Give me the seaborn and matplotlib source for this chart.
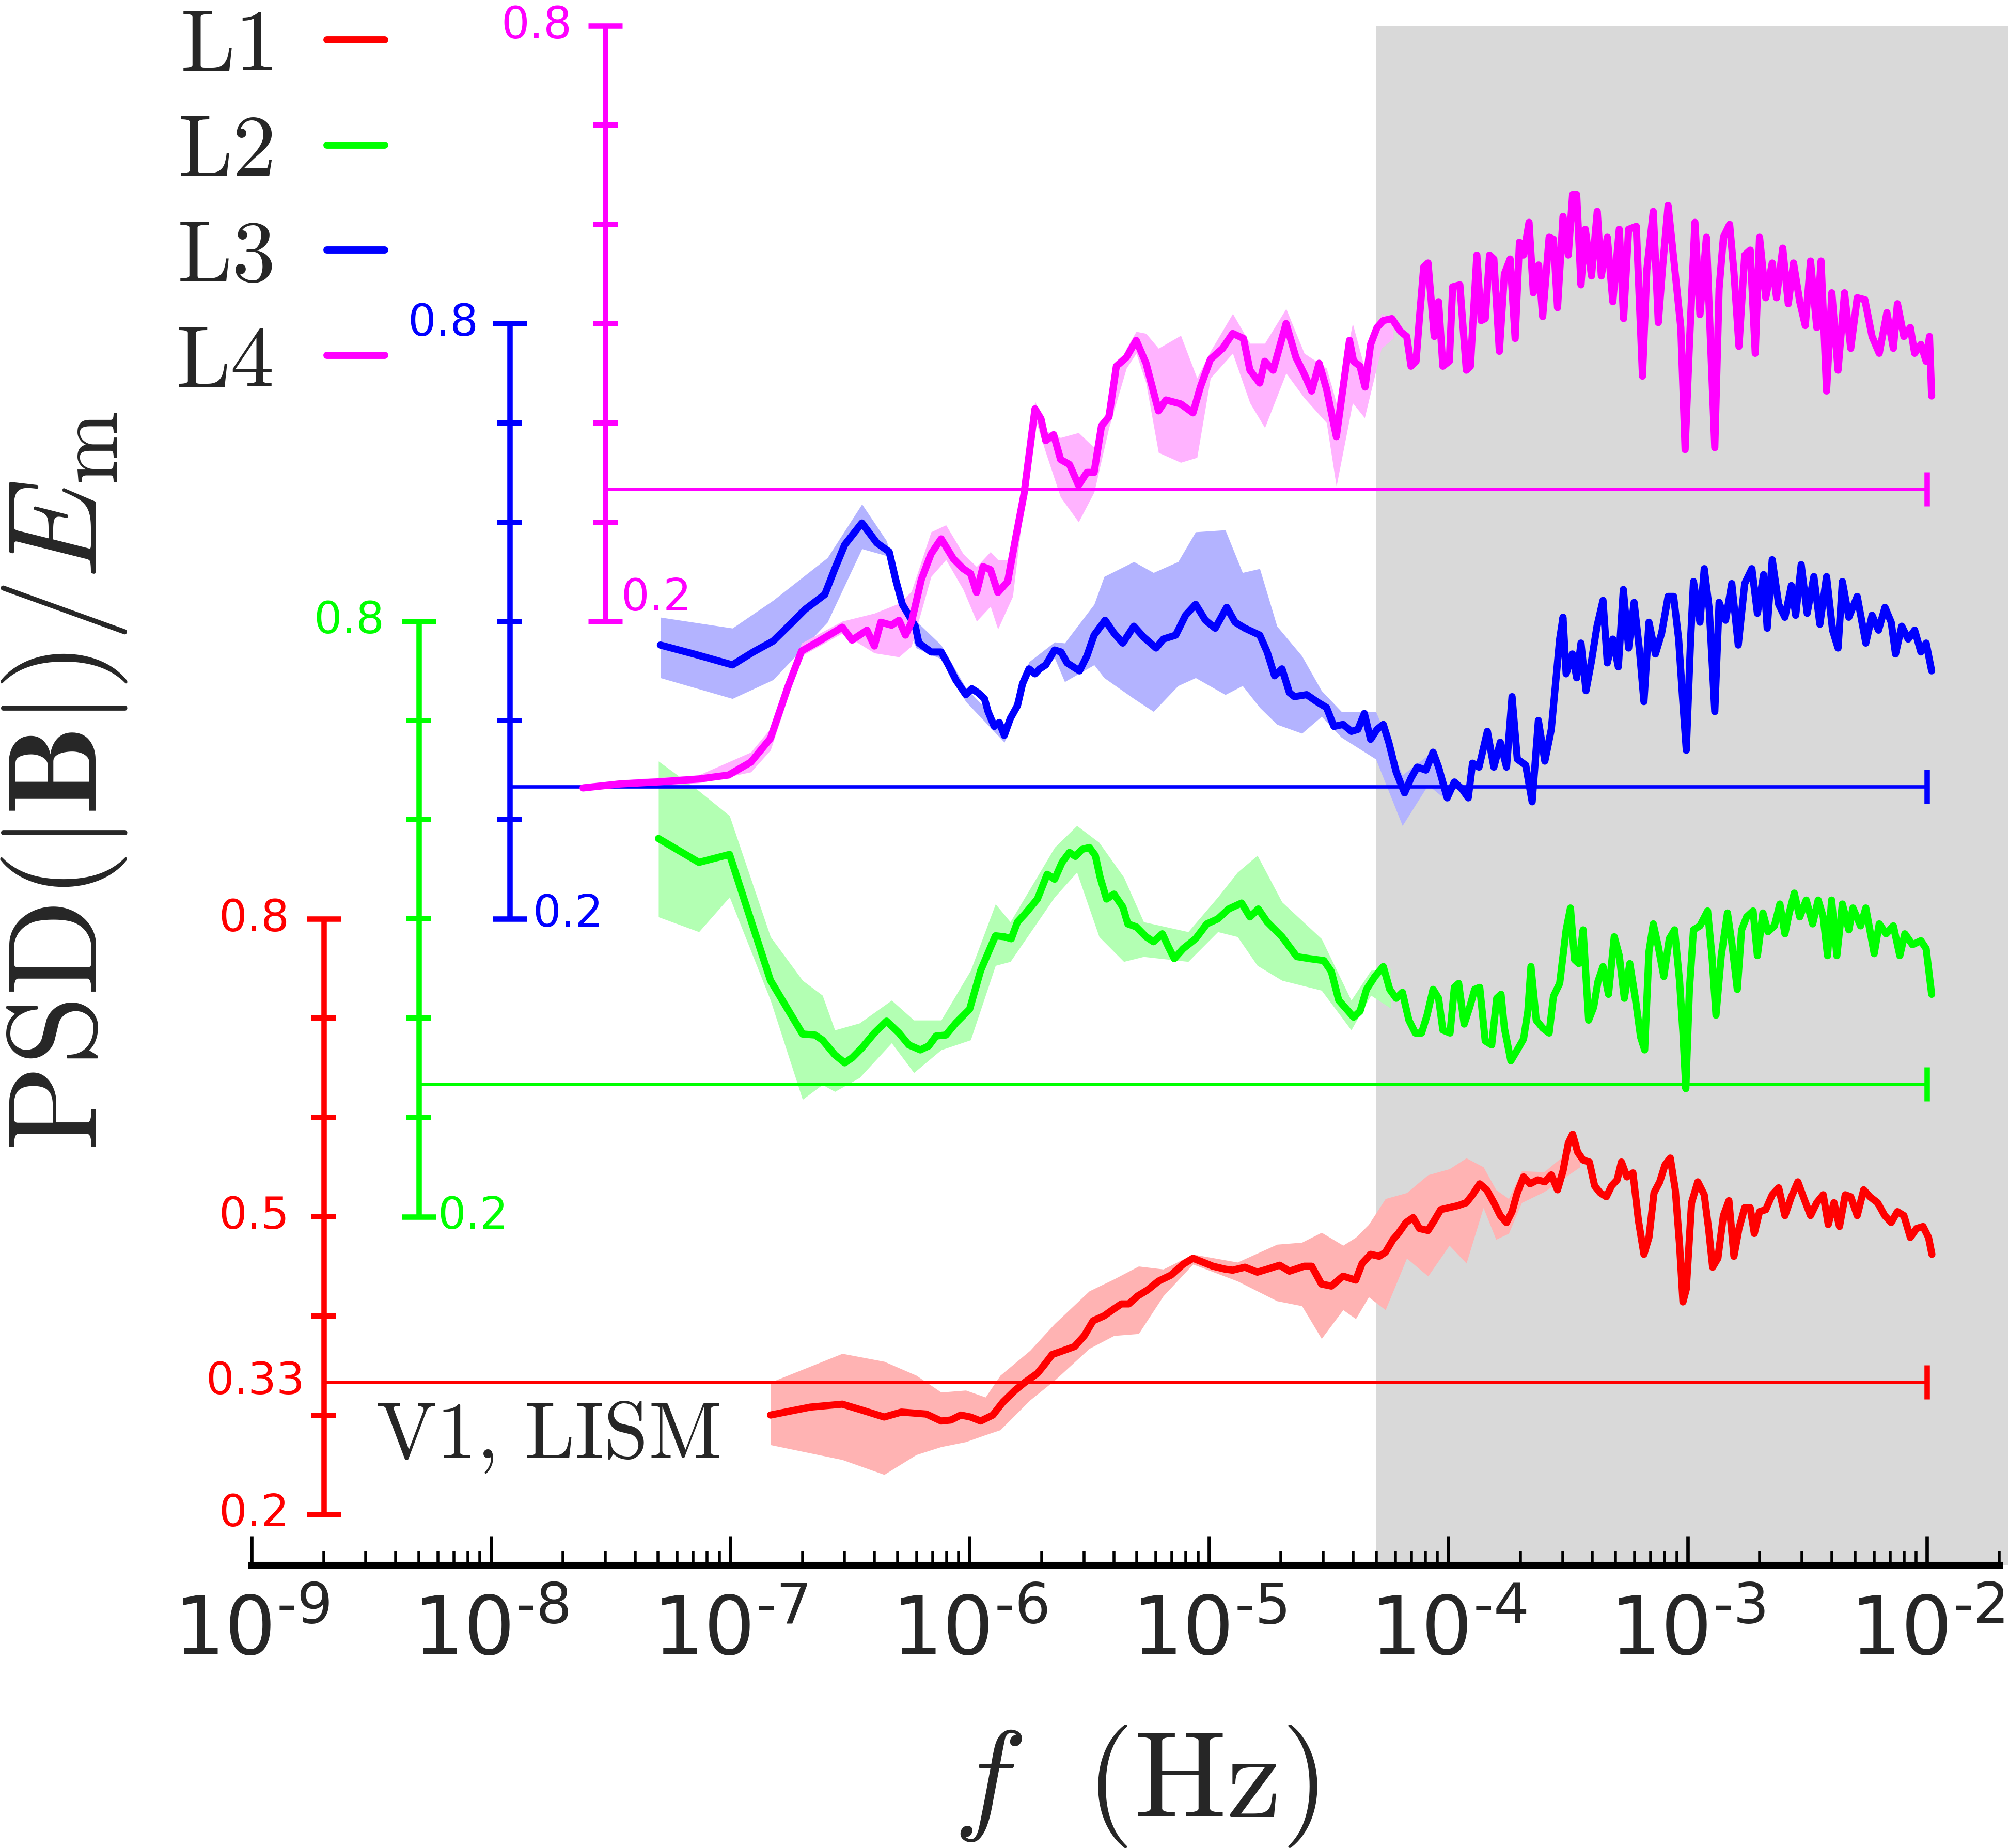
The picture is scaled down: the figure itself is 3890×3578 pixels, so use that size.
import numpy as np
import pandas as pd
import seaborn as sns
import matplotlib.pyplot as plt
from matplotlib.ticker import FuncFormatter

# PSD(|B|)/E_m spectra for the four levels
# frequencies are stored as log10(f / Hz), values on each level's own 0.2-0.8 scale

l1_logf = [
    -6.832, -6.666, -6.532, -6.450, -6.357, -6.285, -6.181, -6.119, -6.078, -6.037,
    -5.996, -5.954, -5.903, -5.861, -5.810, -5.769, -5.717, -5.690, -5.655, -5.608,
    -5.562, -5.521, -5.484, -5.438, -5.397, -5.366, -5.335, -5.298, -5.257, -5.211,
    -5.159, -5.108, -5.067, -5.025, -4.984, -4.932, -4.901, -4.850, -4.798, -4.757,
    -4.705, -4.664, -4.602, -4.571, -4.530, -4.489, -4.440, -4.387, -4.360, -4.325,
    -4.289, -4.263, -4.231, -4.209, -4.177, -4.147, -4.121, -4.085, -4.059, -4.032,
    -3.996, -3.961, -3.925, -3.899, -3.869, -3.840, -3.810, -3.783, -3.757, -3.734,
    -3.712, -3.686, -3.659, -3.627, -3.597, -3.570, -3.544, -3.521, -3.499, -3.481,
    -3.460, -3.437, -3.411, -3.389, -3.366, -3.340, -3.318, -3.295, -3.277, -3.254,
    -3.229, -3.206, -3.183, -3.162, -3.141, -3.117, -3.095, -3.073, -3.052, -3.034,
    -3.020, -3.006, -2.984, -2.958, -2.931, -2.913, -2.896, -2.874, -2.851, -2.828,
    -2.807, -2.786, -2.762, -2.739, -2.722, -2.700, -2.674, -2.647, -2.620, -2.594,
    -2.567, -2.540, -2.514, -2.487, -2.461, -2.434, -2.413, -2.389, -2.366, -2.342,
    -2.319, -2.292, -2.265, -2.239, -2.207, -2.177, -2.150, -2.124, -2.097, -2.070,
    -2.044, -2.017, -1.994, -1.980]
l1_psd = [
    0.300, 0.308, 0.311, 0.305, 0.298, 0.303, 0.301, 0.294, 0.295, 0.300,
    0.298, 0.294, 0.300, 0.313, 0.325, 0.333, 0.342, 0.350, 0.361, 0.365,
    0.369, 0.380, 0.395, 0.400, 0.407, 0.412, 0.412, 0.420, 0.426, 0.435,
    0.441, 0.452, 0.458, 0.454, 0.450, 0.447, 0.446, 0.449, 0.444, 0.447,
    0.451, 0.445, 0.450, 0.450, 0.432, 0.430, 0.440, 0.436, 0.453, 0.462,
    0.460, 0.464, 0.477, 0.483, 0.494, 0.499, 0.488, 0.486, 0.496, 0.507,
    0.509, 0.511, 0.514, 0.522, 0.533, 0.527, 0.514, 0.501, 0.494, 0.505,
    0.524, 0.540, 0.533, 0.537, 0.535, 0.542, 0.527, 0.546, 0.574, 0.583,
    0.565, 0.557, 0.555, 0.531, 0.524, 0.520, 0.531, 0.537, 0.555, 0.540,
    0.544, 0.496, 0.462, 0.479, 0.524, 0.535, 0.552, 0.559, 0.527, 0.471,
    0.414, 0.427, 0.514, 0.535, 0.522, 0.488, 0.449, 0.458, 0.501, 0.516,
    0.460, 0.488, 0.509, 0.509, 0.483, 0.505, 0.507, 0.522, 0.529, 0.501,
    0.520, 0.535, 0.518, 0.501, 0.514, 0.522, 0.492, 0.514, 0.490, 0.522,
    0.520, 0.501, 0.527, 0.520, 0.514, 0.501, 0.494, 0.505, 0.501, 0.479,
    0.488, 0.490, 0.479, 0.462]
l1_band_logf = [-6.832, -6.532, -6.357, -6.223, -6.119, -6.016, -5.934, -5.872, -5.748, -5.645,
                -5.500, -5.397, -5.294, -5.191, -5.067, -4.881, -4.716, -4.612, -4.530, -4.440,
                -4.387, -4.333, -4.263, -4.174, -4.085, -3.996, -3.925, -3.854, -3.801, -3.748,
                -3.694, -3.600, -3.450]
l1_band_lo = [0.270, 0.255, 0.240, 0.260, 0.268, 0.273, 0.280, 0.285, 0.315, 0.335,
              0.367, 0.380, 0.382, 0.420, 0.452, 0.435, 0.415, 0.410, 0.377, 0.406,
              0.397, 0.419, 0.406, 0.458, 0.440, 0.471, 0.453, 0.509, 0.477, 0.483,
              0.514, 0.525, 0.550]
l1_band_hi = [0.333, 0.362, 0.354, 0.340, 0.323, 0.325, 0.318, 0.340, 0.365, 0.392,
              0.425, 0.437, 0.450, 0.447, 0.462, 0.454, 0.472, 0.474, 0.484, 0.471,
              0.479, 0.492, 0.518, 0.524, 0.542, 0.548, 0.559, 0.550, 0.527, 0.518,
              0.546, 0.545, 0.575]

l2_logf = [
    -7.300, -7.131, -7.003, -6.925, -6.832, -6.698, -6.646, -6.615, -6.563, -6.522,
    -6.491, -6.450, -6.398, -6.347, -6.295, -6.254, -6.206, -6.171, -6.140, -6.099,
    -6.058, -6.000, -5.954, -5.892, -5.855, -5.826, -5.800, -5.769, -5.717, -5.676,
    -5.645, -5.614, -5.583, -5.558, -5.531, -5.500, -5.475, -5.455, -5.428, -5.397,
    -5.360, -5.339, -5.304, -5.263, -5.232, -5.195, -5.170, -5.145, -5.108, -5.056,
    -5.009, -4.963, -4.918, -4.864, -4.829, -4.794, -4.757, -4.695, -4.633, -4.581,
    -4.520, -4.489, -4.458, -4.396, -4.369, -4.342, -4.307, -4.272, -4.245, -4.218,
    -4.192, -4.165, -4.138, -4.112, -4.089, -4.064, -4.041, -4.023, -3.993, -3.975,
    -3.957, -3.934, -3.911, -3.890, -3.869, -3.846, -3.819, -3.798, -3.780, -3.766,
    -3.739, -3.712, -3.686, -3.668, -3.655, -3.633, -3.606, -3.579, -3.561, -3.535,
    -3.508, -3.490, -3.473, -3.455, -3.437, -3.414, -3.393, -3.375, -3.354, -3.331,
    -3.307, -3.286, -3.265, -3.242, -3.219, -3.197, -3.180, -3.162, -3.144, -3.123,
    -3.100, -3.077, -3.055, -3.034, -3.020, -3.008, -2.993, -2.976, -2.949, -2.917,
    -2.899, -2.882, -2.860, -2.834, -2.816, -2.793, -2.775, -2.754, -2.727, -2.709,
    -2.686, -2.665, -2.638, -2.615, -2.594, -2.576, -2.555, -2.532, -2.505, -2.478,
    -2.455, -2.434, -2.416, -2.399, -2.377, -2.354, -2.327, -2.310, -2.278, -2.256,
    -2.221, -2.200, -2.171, -2.141, -2.114, -2.093, -2.061, -2.026, -2.004, -1.981]
l2_psd = [
    0.581, 0.557, 0.565, 0.507, 0.438, 0.384, 0.383, 0.378, 0.363, 0.355,
    0.360, 0.370, 0.385, 0.397, 0.385, 0.373, 0.368, 0.372, 0.382, 0.383,
    0.395, 0.409, 0.448, 0.483, 0.482, 0.480, 0.497, 0.505, 0.520, 0.545,
    0.540, 0.557, 0.567, 0.563, 0.570, 0.572, 0.564, 0.542, 0.520, 0.525,
    0.512, 0.495, 0.492, 0.482, 0.477, 0.485, 0.472, 0.460, 0.470, 0.480,
    0.495, 0.500, 0.510, 0.516, 0.502, 0.510, 0.497, 0.482, 0.462, 0.460,
    0.458, 0.447, 0.418, 0.401, 0.407, 0.429, 0.442, 0.452, 0.429, 0.420,
    0.426, 0.398, 0.385, 0.385, 0.403, 0.429, 0.420, 0.388, 0.385, 0.431,
    0.435, 0.394, 0.411, 0.429, 0.431, 0.377, 0.373, 0.420, 0.424, 0.390,
    0.357, 0.368, 0.379, 0.407, 0.452, 0.398, 0.390, 0.385, 0.422, 0.435,
    0.489, 0.511, 0.459, 0.455, 0.489, 0.398, 0.411, 0.437, 0.452, 0.424,
    0.482, 0.463, 0.420, 0.455, 0.420, 0.381, 0.368, 0.467, 0.495, 0.472,
    0.442, 0.480, 0.489, 0.437, 0.385, 0.329, 0.429, 0.489, 0.493, 0.508,
    0.463, 0.403, 0.463, 0.506, 0.476, 0.429, 0.489, 0.502, 0.508, 0.463,
    0.506, 0.487, 0.493, 0.515, 0.485, 0.506, 0.526, 0.502, 0.519, 0.495,
    0.519, 0.502, 0.463, 0.519, 0.463, 0.515, 0.489, 0.511, 0.493, 0.511,
    0.465, 0.495, 0.485, 0.493, 0.463, 0.485, 0.474, 0.478, 0.470, 0.424]
l2_band_logf = [-7.300, -7.131, -7.003, -6.832, -6.698, -6.615, -6.563, -6.460, -6.326, -6.233,
                -6.119, -5.996, -5.892, -5.830, -5.645, -5.552, -5.459, -5.356, -5.273, -5.087,
                -4.963, -4.881, -4.798, -4.695, -4.530, -4.406, -4.324, -4.241]
l2_band_lo = [0.502, 0.487, 0.522, 0.418, 0.318, 0.333, 0.326, 0.340, 0.375, 0.345,
              0.368, 0.378, 0.453, 0.457, 0.522, 0.547, 0.482, 0.457, 0.462, 0.457,
              0.487, 0.482, 0.453, 0.438, 0.428, 0.388, 0.423, 0.410]
l2_band_hi = [0.659, 0.629, 0.604, 0.482, 0.438, 0.423, 0.388, 0.395, 0.418, 0.398,
              0.398, 0.448, 0.515, 0.497, 0.572, 0.594, 0.577, 0.542, 0.497, 0.487,
              0.522, 0.547, 0.564, 0.517, 0.480, 0.418, 0.448, 0.450]

l3_logf = [
    -7.292, -7.152, -6.991, -6.904, -6.821, -6.749, -6.687, -6.605, -6.563, -6.522,
    -6.450, -6.388, -6.336, -6.309, -6.281, -6.227, -6.212, -6.161, -6.119, -6.089,
    -6.058, -6.016, -5.991, -5.965, -5.938, -5.923, -5.897, -5.876, -5.855, -5.830,
    -5.800, -5.779, -5.752, -5.727, -5.707, -5.682, -5.645, -5.618, -5.593, -5.541,
    -5.510, -5.480, -5.434, -5.397, -5.360, -5.314, -5.273, -5.221, -5.191, -5.139,
    -5.098, -5.056, -5.015, -4.974, -4.926, -4.891, -4.850, -4.788, -4.757, -4.726,
    -4.695, -4.664, -4.643, -4.592, -4.550, -4.509, -4.478, -4.440, -4.405, -4.378,
    -4.351, -4.325, -4.298, -4.272, -4.249, -4.218, -4.183, -4.156, -4.130, -4.094,
    -4.064, -4.041, -4.005, -3.975, -3.943, -3.917, -3.899, -3.872, -3.837, -3.810,
    -3.783, -3.757, -3.734, -3.712, -3.677, -3.650, -3.624, -3.597, -3.570, -3.553,
    -3.535, -3.521, -3.508, -3.482, -3.464, -3.446, -3.425, -3.402, -3.379, -3.354,
    -3.336, -3.313, -3.290, -3.269, -3.247, -3.224, -3.201, -3.183, -3.162, -3.135,
    -3.109, -3.082, -3.059, -3.038, -3.020, -3.006, -2.988, -2.976, -2.949, -2.931,
    -2.910, -2.887, -2.869, -2.842, -2.816, -2.789, -2.762, -2.732, -2.709, -2.683,
    -2.668, -2.647, -2.620, -2.594, -2.567, -2.549, -2.526, -2.501, -2.473, -2.448,
    -2.420, -2.395, -2.372, -2.354, -2.327, -2.292, -2.256, -2.230, -2.203, -2.176,
    -2.150, -2.132, -2.106, -2.079, -2.052, -2.026, -2.004, -1.981]
l3_psd = [
    0.476, 0.467, 0.456, 0.469, 0.480, 0.497, 0.512, 0.527, 0.553, 0.577,
    0.599, 0.579, 0.570, 0.542, 0.517, 0.495, 0.478, 0.469, 0.469, 0.456,
    0.441, 0.426, 0.432, 0.428, 0.422, 0.409, 0.394, 0.398, 0.385, 0.402,
    0.415, 0.437, 0.452, 0.447, 0.452, 0.456, 0.471, 0.469, 0.458, 0.450,
    0.465, 0.486, 0.501, 0.488, 0.478, 0.495, 0.484, 0.473, 0.482, 0.486,
    0.506, 0.517, 0.501, 0.493, 0.514, 0.499, 0.493, 0.486, 0.469, 0.445,
    0.452, 0.428, 0.424, 0.426, 0.419, 0.413, 0.394, 0.396, 0.389, 0.391,
    0.407, 0.381, 0.391, 0.396, 0.378, 0.348, 0.327, 0.342, 0.353, 0.350,
    0.368, 0.353, 0.322, 0.338, 0.331, 0.322, 0.357, 0.353, 0.389, 0.353,
    0.378, 0.353, 0.424, 0.361, 0.355, 0.318, 0.400, 0.359, 0.391, 0.435,
    0.482, 0.504, 0.447, 0.467, 0.443, 0.478, 0.430, 0.460, 0.495, 0.521,
    0.458, 0.482, 0.454, 0.532, 0.473, 0.519, 0.469, 0.419, 0.499, 0.467,
    0.488, 0.525, 0.525, 0.482, 0.417, 0.370, 0.482, 0.540, 0.499, 0.553,
    0.512, 0.409, 0.519, 0.501, 0.538, 0.476, 0.538, 0.553, 0.508, 0.547,
    0.493, 0.562, 0.517, 0.504, 0.536, 0.506, 0.557, 0.508, 0.545, 0.497,
    0.545, 0.491, 0.473, 0.540, 0.504, 0.525, 0.478, 0.506, 0.491, 0.514,
    0.499, 0.467, 0.495, 0.482, 0.491, 0.469, 0.478, 0.450]
l3_band_logf = [-7.292, -6.991, -6.821, -6.594, -6.450, -6.347, -6.281, -6.223, -6.119, -6.016,
                -5.855, -5.752, -5.645, -5.603, -5.480, -5.438, -5.314, -5.232, -5.129, -5.056,
                -4.932, -4.860, -4.788, -4.716, -4.612, -4.530, -4.447, -4.303, -4.192, -4.085,
                -4.000]
l3_band_lo = [0.443, 0.422, 0.441, 0.499, 0.573, 0.566, 0.505, 0.473, 0.462, 0.419,
              0.378, 0.445, 0.463, 0.439, 0.456, 0.443, 0.422, 0.409, 0.435, 0.443,
              0.426, 0.435, 0.413, 0.396, 0.387, 0.404, 0.383, 0.361, 0.294, 0.335,
              0.318]
l3_band_hi = [0.504, 0.493, 0.521, 0.564, 0.618, 0.581, 0.525, 0.500, 0.476, 0.433,
              0.392, 0.459, 0.479, 0.478, 0.517, 0.545, 0.560, 0.549, 0.560, 0.590,
              0.592, 0.549, 0.553, 0.495, 0.465, 0.430, 0.409, 0.409, 0.345, 0.365,
              0.335]

l4_logf = [
    -7.615, -7.461, -7.307, -7.131, -7.007, -6.914, -6.832, -6.759, -6.702, -6.636,
    -6.532, -6.491, -6.429, -6.398, -6.371, -6.326, -6.295, -6.268, -6.243, -6.202,
    -6.161, -6.119, -6.068, -6.027, -5.996, -5.971, -5.944, -5.913, -5.882, -5.841,
    -5.810, -5.773, -5.752, -5.727, -5.702, -5.682, -5.649, -5.620, -5.583, -5.545,
    -5.510, -5.480, -5.449, -5.418, -5.387, -5.345, -5.304, -5.263, -5.211, -5.180,
    -5.118, -5.067, -5.036, -4.994, -4.943, -4.901, -4.856, -4.829, -4.788, -4.767,
    -4.732, -4.678, -4.637, -4.602, -4.571, -4.540, -4.509, -4.468, -4.413, -4.396,
    -4.369, -4.348, -4.325, -4.298, -4.272, -4.236, -4.200, -4.174, -4.156, -4.135,
    -4.121, -4.103, -4.085, -4.059, -4.041, -4.023, -3.996, -3.982, -3.952, -3.925,
    -3.908, -3.881, -3.863, -3.846, -3.828, -3.810, -3.787, -3.766, -3.742, -3.721,
    -3.703, -3.686, -3.663, -3.645, -3.623, -3.606, -3.579, -3.561, -3.544, -3.521,
    -3.499, -3.481, -3.464, -3.446, -3.428, -3.402, -3.378, -3.361, -3.336, -3.313,
    -3.286, -3.268, -3.247, -3.215, -3.189, -3.171, -3.144, -3.123, -3.105, -3.082,
    -3.055, -3.029, -3.011, -2.993, -2.970, -2.949, -2.922, -2.905, -2.887, -2.869,
    -2.851, -2.825, -2.807, -2.786, -2.762, -2.739, -2.718, -2.700, -2.674, -2.647,
    -2.629, -2.603, -2.580, -2.558, -2.532, -2.509, -2.487, -2.461, -2.443, -2.420,
    -2.398, -2.372, -2.345, -2.319, -2.292, -2.260, -2.230, -2.200, -2.168, -2.141,
    -2.124, -2.097, -2.070, -2.052, -2.026, -2.004, -1.990, -1.981]
l4_psd = [
    0.032, 0.036, 0.038, 0.041, 0.045, 0.058, 0.082, 0.134, 0.170, 0.179,
    0.194, 0.181, 0.191, 0.175, 0.199, 0.196, 0.201, 0.186, 0.199, 0.242,
    0.268, 0.283, 0.263, 0.253, 0.248, 0.229, 0.255, 0.252, 0.229, 0.240,
    0.281, 0.328, 0.367, 0.414, 0.404, 0.382, 0.388, 0.363, 0.358, 0.337,
    0.350, 0.350, 0.397, 0.406, 0.457, 0.466, 0.483, 0.460, 0.412, 0.423,
    0.419, 0.410, 0.436, 0.464, 0.475, 0.490, 0.485, 0.453, 0.440, 0.462,
    0.453, 0.500, 0.466, 0.449, 0.432, 0.460, 0.434, 0.386, 0.483, 0.462,
    0.457, 0.436, 0.479, 0.496, 0.503, 0.505, 0.492, 0.487, 0.457, 0.462,
    0.505, 0.557, 0.561, 0.487, 0.522, 0.457, 0.462, 0.537, 0.539, 0.453,
    0.457, 0.569, 0.503, 0.505, 0.569, 0.565, 0.472, 0.550, 0.565, 0.485,
    0.582, 0.569, 0.602, 0.531, 0.559, 0.507, 0.587, 0.585, 0.516, 0.608,
    0.569, 0.630, 0.630, 0.539, 0.595, 0.548, 0.613, 0.548, 0.587, 0.522,
    0.595, 0.505, 0.595, 0.598, 0.447, 0.554, 0.613, 0.501, 0.557, 0.619,
    0.557, 0.496, 0.373, 0.479, 0.602, 0.509, 0.587, 0.483, 0.375, 0.535,
    0.587, 0.600, 0.552, 0.477, 0.569, 0.574, 0.470, 0.587, 0.526, 0.561,
    0.526, 0.576, 0.520, 0.561, 0.522, 0.498, 0.563, 0.496, 0.563, 0.432,
    0.531, 0.453, 0.531, 0.475, 0.526, 0.524, 0.487, 0.470, 0.511, 0.475,
    0.520, 0.487, 0.496, 0.470, 0.479, 0.462, 0.487, 0.427]
l4_band_logf = [-7.615, -7.461, -7.131, -6.914, -6.832, -6.702, -6.532, -6.398, -6.295, -6.243,
                -6.161, -6.099, -6.027, -5.971, -5.913, -5.882, -5.820, -5.773, -5.727, -5.682,
                -5.620, -5.545, -5.480, -5.418, -5.345, -5.304, -5.263, -5.211, -5.118, -5.050,
                -4.994, -4.901, -4.829, -4.767, -4.678, -4.602, -4.509, -4.468, -4.400, -4.350,
                -4.280, -4.230]
l4_band_lo = [0.030, 0.032, 0.037, 0.048, 0.070, 0.165, 0.188, 0.168, 0.164, 0.175,
              0.245, 0.262, 0.232, 0.200, 0.215, 0.192, 0.225, 0.320, 0.405, 0.370,
              0.325, 0.300, 0.330, 0.395, 0.455, 0.470, 0.440, 0.370, 0.360, 0.365,
              0.445, 0.470, 0.420, 0.395, 0.450, 0.425, 0.400, 0.336, 0.420, 0.405,
              0.475, 0.485]
l4_band_hi = [0.036, 0.040, 0.045, 0.068, 0.092, 0.178, 0.200, 0.208, 0.218, 0.230,
              0.290, 0.297, 0.268, 0.255, 0.270, 0.262, 0.262, 0.338, 0.422, 0.392,
              0.385, 0.390, 0.375, 0.420, 0.475, 0.492, 0.490, 0.475, 0.488, 0.445,
              0.472, 0.510, 0.480, 0.480, 0.515, 0.470, 0.455, 0.420, 0.500, 0.455,
              0.510, 0.505]

level_names = ['L1', 'L2', 'L3', 'L4']
level_colors = ['#ff0000', '#00ff00', '#0000ff', '#ff00ff']
band_colors = ['#ffb3b3', '#b3ffb3', '#b3b3ff', '#ffb3ff']
level_offset = [0.0, 0.3, 0.6, 0.9]       # vertical shift of each level
scale_pos = [2e-9, 5e-9, 1.2e-8, 3e-8]     # where each small y scale sits
scale_ticks = [0.2, 0.3, 0.4, 0.5, 0.6, 0.7, 0.8]
ref_level = 1 / 3                          # horizontal reference line
ref_end = 1e-2
gray_start = 5e-5
decades = [1e-9, 1e-8, 1e-7, 1e-6, 1e-5, 1e-4, 1e-3, 1e-2]

# tick labels on each small scale: (value, text, side, dx, dy) in points
scale_labels = [
    [(0.8, '0.8', 'l', -24, 0), (0.5, '0.5', 'l', -24, 0), (1 / 3, '0.33', 'l', -13, 0), (0.2, '0.2', 'l', -24, 0)],
    [(0.8, '0.8', 'l', -24, 0), (0.2, '0.2', 'r', 13, 0)],
    [(0.8, '0.8', 'l', -22, 0), (0.2, '0.2', 'r', 16, 3)],
    [(0.8, '0.8', 'l', -23, 0), (0.2, '0.2', 'r', 11, 16)],
]

series = [
    (l1_logf, l1_psd, l1_band_logf, l1_band_lo, l1_band_hi),
    (l2_logf, l2_psd, l2_band_logf, l2_band_lo, l2_band_hi),
    (l3_logf, l3_psd, l3_band_logf, l3_band_lo, l3_band_hi),
    (l4_logf, l4_psd, l4_band_logf, l4_band_lo, l4_band_hi),
]

sns.set_theme(style='white')
plt.rcParams['font.family'] = ['DejaVu Sans']
plt.rcParams['mathtext.fontset'] = 'cm'
plt.rcParams['axes.unicode_minus'] = False

fig = plt.figure(figsize=(19.45, 17.89), dpi=200)
ax = fig.add_axes([0.1252, 0.1532, 0.8699, 0.8328])
ax.set_xscale('log')
x_max = 2e-2
ax.set_xlim(1e-9, x_max)
ax.set_ylim(0.149, 1.70)
ax.axvspan(gray_start, 2.18e-2, color='#d9d9d9', lw=0, zorder=0, clip_on=False)

for k, (logf, psd, b_logf, b_lo, b_hi) in enumerate(series):
    assert len(logf) == len(psd) and len(b_logf) == len(b_lo) == len(b_hi)
    color = level_colors[k]
    off = level_offset[k]
    xa = scale_pos[k]

    # small y scale for this level
    ax.plot([xa, xa], [0.2 + off, 0.8 + off], color=color, lw=3.8,
            solid_capstyle='butt', clip_on=False, zorder=2)
    ax.plot([xa] * 5, [t + off for t in scale_ticks[1:-1]], ls='none', marker='_',
            ms=17, mew=3.6, color=color, clip_on=False, zorder=2)
    ax.plot([xa] * 2, [0.2 + off, 0.8 + off], ls='none', marker='_',
            ms=24, mew=3.8, color=color, clip_on=False, zorder=2)
    for v, txt, side, dx, dy in scale_labels[k]:
        ax.annotate(txt, xy=(xa, v + off), xytext=(dx, dy), textcoords='offset points',
                    ha='right' if side == 'l' else 'left', va='center',
                    color=color, fontsize=31, annotation_clip=False)

    # 1/3 reference line with end tick
    ax.plot([xa, ref_end], [ref_level + off] * 2, color=color, lw=2.4, zorder=2)
    ax.plot([ref_end], [ref_level + off], marker='|', ms=24, mew=3.8, color=color, zorder=2)

    # spread band and mean spectrum
    ax.fill_between(10 ** np.array(b_logf), np.array(b_lo) + off, np.array(b_hi) + off,
                    color=band_colors[k], lw=0, zorder=1)
    df = pd.DataFrame({'f': 10 ** np.array(logf), 'psd': np.array(psd) + off})
    sns.lineplot(data=df, x='f', y='psd', color=color, lw=5, ax=ax,
                 label=r'$\mathrm{%s}$' % level_names[k], legend=False,
                 estimator=None, sort=False, zorder=3)

ax.text(10 ** -8.48, 0.257, r'$\mathrm{V1,\,LISM}$', fontsize=56, va='baseline', ha='left')

for s in ['top', 'right', 'left']:
    ax.spines[s].set_visible(False)
ax.spines['bottom'].set_linewidth(4.7)
ax.spines['bottom'].set_color('black')
ax.set_yticks([])
ax.set_xlabel('')
ax.set_ylabel('')
ax.set_xticks(decades)
ax.xaxis.set_major_formatter(FuncFormatter(
    lambda v, p: '$\\mathdefault{10^{\u2010%d}}$' % round(-np.log10(v))))
ax.tick_params(axis='x', which='major', direction='in', length=20, width=2.4,
               labelsize=56, pad=20, color='black', bottom=True)
ax.tick_params(axis='x', which='minor', direction='in', length=10, width=2,
               color='black', bottom=True)

handles, labels = ax.get_legend_handles_labels()
fig.legend(handles, labels, loc='upper left', bbox_to_anchor=(0.0875, 0.998),
           frameon=False, markerfirst=False, fontsize=61, handlelength=0.66,
           handletextpad=0.62, labelspacing=0.235, borderpad=0, borderaxespad=0)

fig.text(0.0319, 0.577, r'$\mathrm{PSD}(|\mathbf{B}|)/E_\mathrm{m}$', rotation=90,
         fontsize=88, ha='center', va='center')
fig.text(0.5653, 0.0333, r'$f\ \ (\mathrm{Hz})$', fontsize=86, ha='center', va='center')

fig.savefig('out.png', dpi=200)
